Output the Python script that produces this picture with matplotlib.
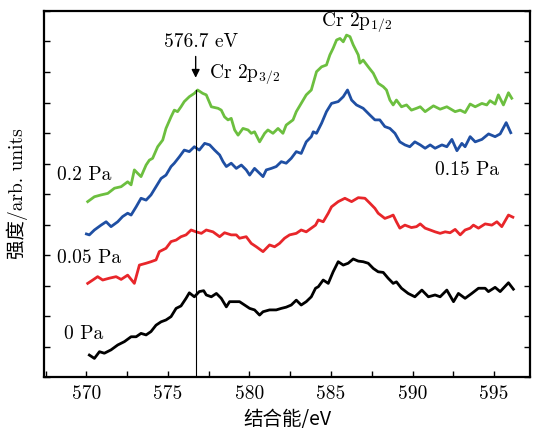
import matplotlib
matplotlib.use("Agg")
import matplotlib.pyplot as plt
from matplotlib.ticker import MultipleLocator, NullFormatter

plt.rcParams['font.family'] = ['cmr10', 'Noto Sans CJK SC', 'DejaVu Sans']
plt.rcParams['mathtext.fontset'] = 'cm'
plt.rcParams['axes.unicode_minus'] = False

# ---- data ----
x_black = [570.18, 570.49, 570.80, 571.10, 571.51, 571.92, 572.33, 572.74, 573.05, 573.35, 573.66, 573.96,
           574.27, 574.58, 574.88, 575.19, 575.50, 575.80, 576.11, 576.31, 576.62, 576.92, 577.19, 577.35,
           577.66, 577.97, 578.27, 578.58, 578.78, 579.09, 579.39, 579.70, 580.01, 580.31, 580.62, 580.83,
           581.23, 581.64, 581.95, 582.25, 582.56, 582.87, 583.17, 583.48, 583.79, 584.05, 584.22, 584.52,
           584.83, 585.13, 585.44, 585.75, 586.05, 586.36, 586.67, 586.97, 587.28, 587.59, 587.89, 588.20,
           588.50, 588.81, 589.01, 589.32, 589.73, 590.14, 590.57, 590.97, 591.38, 591.69, 592.10, 592.51,
           592.81, 593.22, 593.63, 594.04, 594.45, 594.65, 595.06, 595.37, 595.88, 596.18]
y_black = [0.72, 0.61, 0.83, 0.78, 0.89, 1.05, 1.16, 1.32, 1.32, 1.43, 1.38, 1.49,
           1.70, 1.81, 1.87, 1.98, 2.25, 2.33, 2.58, 2.76, 2.63, 2.80, 2.83, 2.69,
           2.63, 2.74, 2.58, 2.30, 2.47, 2.47, 2.47, 2.36, 2.25, 2.20, 2.03, 2.14,
           2.20, 2.20, 2.25, 2.29, 2.36, 2.52, 2.36, 2.47, 2.63, 2.91, 2.96, 3.18,
           3.07, 3.45, 3.78, 3.67, 3.73, 3.87, 3.80, 3.78, 3.73, 3.56, 3.45, 3.43,
           3.24, 3.07, 3.12, 2.91, 2.74, 2.63, 2.85, 2.63, 2.69, 2.63, 2.85, 2.47,
           2.74, 2.58, 2.74, 2.91, 2.91, 2.80, 2.94, 2.80, 3.09, 2.88]

x_red = [570.08, 570.39, 570.69, 571.00, 571.41, 571.82, 572.13, 572.53, 572.94, 573.25, 573.66, 573.96,
         574.27, 574.47, 574.88, 575.19, 575.50, 575.80, 576.11, 576.42, 576.72, 577.05, 577.35, 577.76,
         578.17, 578.47, 578.88, 579.19, 579.39, 579.80, 580.11, 580.42, 580.83, 581.03, 581.23, 581.54,
         581.84, 582.15, 582.46, 582.87, 583.17, 583.48, 583.79, 584.05, 584.22, 584.52, 584.83, 585.03,
         585.44, 585.85, 586.26, 586.67, 587.08, 587.38, 587.69, 587.89, 588.30, 588.61, 588.81, 589.01,
         589.22, 589.53, 589.93, 590.24, 590.47, 590.77, 591.08, 591.38, 591.69, 592.00, 592.30, 592.61,
         592.92, 593.22, 593.53, 593.73, 594.04, 594.45, 594.86, 595.17, 595.47, 595.88, 596.15]
y_red = [3.07, 3.18, 3.29, 3.18, 3.24, 3.29, 3.20, 3.34, 3.07, 3.67, 3.73, 3.78,
         3.84, 4.11, 4.22, 4.44, 4.49, 4.60, 4.66, 4.82, 4.76, 4.71, 4.82, 4.76,
         4.60, 4.73, 4.66, 4.66, 4.55, 4.60, 4.38, 4.27, 4.11, 4.22, 4.33, 4.27,
         4.38, 4.55, 4.66, 4.71, 4.82, 4.76, 4.88, 4.98, 5.15, 5.09, 5.37, 5.58,
         5.75, 5.86, 5.75, 5.88, 5.86, 5.70, 5.53, 5.37, 5.20, 5.26, 5.31, 5.09,
         4.88, 4.98, 4.90, 4.93, 5.02, 4.88, 4.82, 4.76, 4.71, 4.76, 4.73, 4.84,
         4.66, 4.82, 4.88, 4.98, 4.88, 5.02, 4.98, 5.09, 4.93, 5.31, 5.24]

x_blue = [570.00, 570.18, 570.49, 570.90, 571.21, 571.51, 571.92, 572.22, 572.53, 572.74, 573.05, 573.35,
          573.66, 573.96, 574.27, 574.58, 574.88, 575.19, 575.39, 575.70, 576.00, 576.31, 576.62, 576.92,
          577.25, 577.56, 577.86, 578.17, 578.38, 578.58, 578.88, 579.19, 579.50, 579.80, 580.01, 580.31,
          580.52, 580.83, 581.03, 581.34, 581.64, 581.95, 582.25, 582.56, 582.87, 583.17, 583.48, 583.79,
          583.91, 584.11, 584.42, 584.72, 585.03, 585.44, 585.75, 586.01, 586.26, 586.56, 586.97, 587.38,
          587.69, 587.99, 588.30, 588.61, 588.92, 589.22, 589.53, 589.83, 590.14, 590.47, 590.77, 591.08,
          591.38, 591.80, 592.10, 592.41, 592.72, 593.02, 593.22, 593.53, 593.84, 594.25, 594.66, 595.06,
          595.37, 595.74, 596.02]
y_blue = [4.69, 4.66, 4.82, 4.98, 5.09, 4.93, 5.09, 5.26, 5.37, 5.31, 5.58, 5.86,
          5.80, 5.97, 6.24, 6.51, 6.62, 6.90, 7.01, 7.22, 7.44, 7.39, 7.55, 7.44,
          7.66, 7.61, 7.44, 7.28, 7.06, 6.90, 7.01, 6.84, 6.95, 6.79, 6.62, 6.84,
          6.73, 6.57, 6.79, 6.84, 6.90, 7.06, 7.01, 7.17, 7.39, 7.33, 7.71, 7.88,
          8.04, 7.99, 8.32, 8.70, 8.97, 9.03, 9.19, 9.41, 9.08, 8.92, 8.81, 8.59,
          8.43, 8.43, 8.21, 8.15, 7.99, 7.71, 7.61, 7.55, 7.71, 7.61, 7.50, 7.61,
          7.50, 7.61, 7.55, 7.79, 7.42, 7.66, 7.55, 7.88, 7.71, 7.79, 7.97, 7.88,
          7.97, 8.34, 8.01]

x_green = [570.08, 570.49, 570.90, 571.31, 571.72, 572.13, 572.53, 572.74, 572.94, 573.14, 573.35, 573.66,
           573.86, 574.06, 574.37, 574.68, 574.88, 575.19, 575.39, 575.59, 575.80, 576.00, 576.31, 576.62,
           576.82, 577.13, 577.35, 577.66, 578.07, 578.27, 578.47, 578.68, 578.88, 579.09, 579.30, 579.60,
           579.91, 580.11, 580.31, 580.62, 580.93, 581.13, 581.44, 581.75, 582.05, 582.25, 582.67, 582.87,
           583.17, 583.48, 583.79, 584.11, 584.42, 584.72, 584.93, 585.13, 585.34, 585.55, 585.75, 585.95,
           586.16, 586.36, 586.67, 586.77, 586.97, 587.28, 587.59, 587.89, 588.20, 588.40, 588.61, 588.81,
           589.01, 589.32, 589.63, 589.93, 590.24, 590.47, 590.77, 591.28, 591.69, 592.10, 592.61, 592.92,
           593.22, 593.53, 593.84, 594.25, 594.55, 594.75, 595.06, 595.26, 595.57, 595.88, 596.08]
y_green = [5.75, 5.91, 5.97, 6.02, 6.19, 6.24, 6.40, 6.30, 6.79, 6.68, 6.57, 6.95,
           7.11, 7.17, 7.55, 7.77, 8.15, 8.53, 8.75, 8.70, 8.86, 9.03, 9.19, 9.30,
           9.41, 9.30, 9.25, 8.86, 8.81, 8.75, 8.53, 8.43, 8.48, 8.10, 7.93, 8.15,
           8.10, 7.99, 8.04, 7.71, 7.99, 8.10, 7.99, 8.15, 7.99, 8.26, 8.43, 8.70,
           8.97, 9.25, 9.41, 10.01, 10.17, 10.23, 10.56, 10.78, 11.05, 11.10, 10.99, 11.21,
           11.16, 10.89, 10.56, 10.29, 10.39, 10.17, 9.96, 9.63, 9.52, 9.41, 9.08, 8.92,
           9.08, 8.86, 8.92, 8.75, 8.81, 8.86, 8.70, 8.89, 8.78, 8.86, 8.70, 8.75,
           8.67, 8.95, 8.86, 8.97, 8.92, 9.06, 8.95, 9.25, 8.92, 9.32, 9.14]

series_labels = ['0 Pa', '0.05 Pa', '0.15 Pa', '0.2 Pa']
peak_energy = 576.7
x_ticks = [570, 575, 580, 585, 590, 595]

# ---- figure ----
fig = plt.figure(figsize=(5.34, 4.33), dpi=100)
ax = fig.add_axes([0.0824, 0.1293, 0.9101, 0.8453])

lw = 2.0
ax.plot(x_black, y_black, color='black', lw=lw)
ax.plot(x_red, y_red, color='#e8262a', lw=lw)
ax.plot(x_blue, y_blue, color='#1f4fa3', lw=lw)
ax.plot(x_green, y_green, color='#6cbf3f', lw=lw)

ax.set_xlim(567.4, 597.2)
ax.set_ylim(0, 12)

# vertical marker line at the Cr 2p3/2 peak
ax.plot([peak_energy, peak_energy], [0, 9.41], color='black', lw=0.8)
ax.annotate('', xy=(peak_energy, 9.72), xytext=(peak_energy, 10.6),
            arrowprops=dict(arrowstyle='-|>', color='black', lw=1.0, mutation_scale=12))

fs = 14
ax.text(577.05, 10.98, '576.7 eV', ha='center', va='center', fontsize=fs)
ax.text(577.5, 9.93, r'Cr 2p$_{3/2}$', ha='left', va='center', fontsize=fs)
ax.text(584.4, 11.62, r'Cr 2p$_{1/2}$', ha='left', va='center', fontsize=fs)

ax.text(568.2, 6.62, series_labels[3], ha='left', va='center', fontsize=fs)
ax.text(591.4, 6.79, series_labels[2], ha='left', va='center', fontsize=fs)
ax.text(568.2, 3.90, series_labels[1], ha='left', va='center', fontsize=fs)
ax.text(568.6, 1.41, series_labels[0], ha='left', va='center', fontsize=fs)

ax.set_xticks(x_ticks)
ax.set_xticklabels([str(t) for t in x_ticks], fontsize=fs)
ax.xaxis.set_minor_locator(MultipleLocator(2.5))
ax.yaxis.set_major_locator(MultipleLocator(1))
ax.yaxis.set_major_formatter(NullFormatter())
ax.tick_params(axis='both', which='both', direction='in', length=4, width=1.0,
               right=True, top=False)
ax.tick_params(axis='x', pad=6)

for s in ax.spines.values():
    s.set_linewidth(1.6)

ax.set_xlabel('结合能/eV', fontsize=fs, family=['Noto Sans CJK SC', 'DejaVu Sans'], labelpad=4)
ax.set_ylabel('强度/arb. units', fontsize=fs, family=['cmr10', 'Noto Sans CJK SC'], labelpad=8)

fig.savefig('out.png', dpi=100)
